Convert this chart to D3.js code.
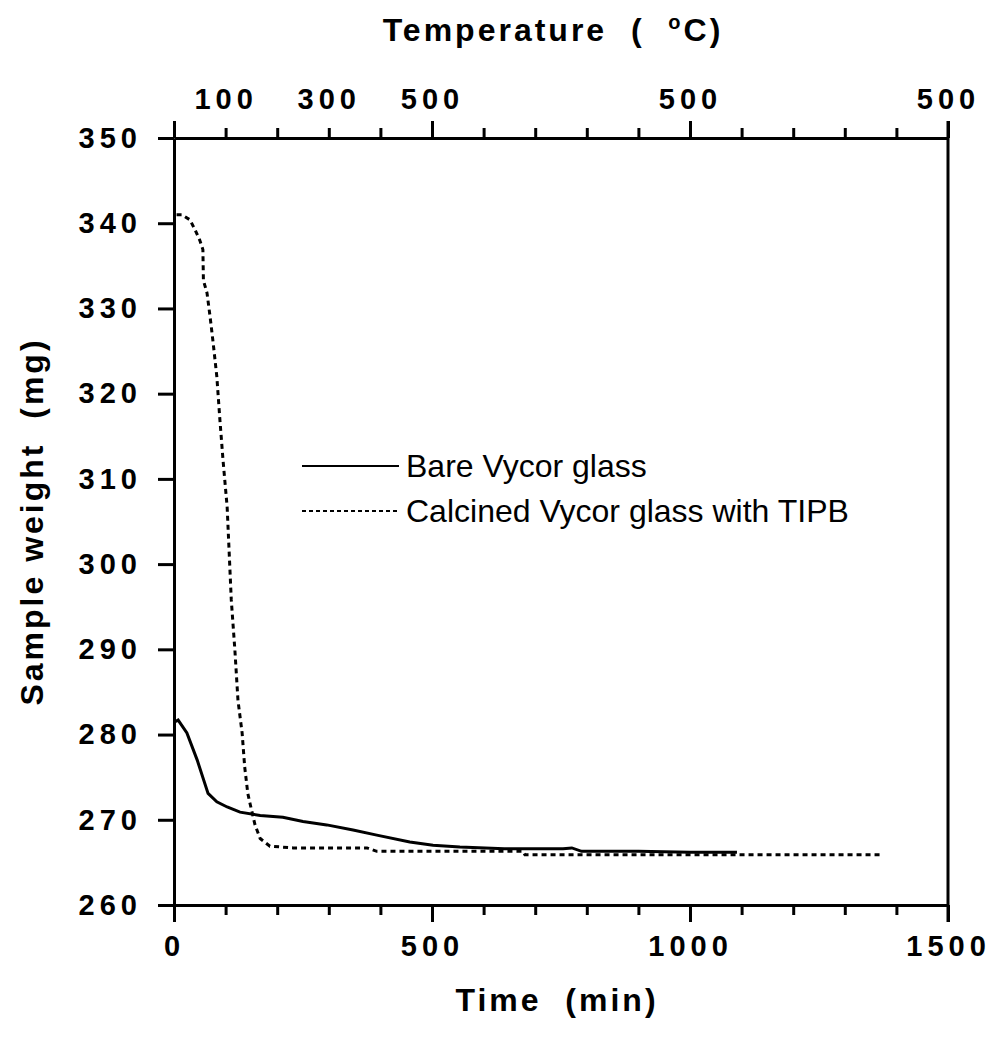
<!DOCTYPE html>
<html>
<head>
<meta charset="utf-8">
<script src="https://cdn.jsdelivr.net/npm/d3@7"></script>
<style>
  body { margin: 0; background: #fff; }
  svg { font-family: "Liberation Sans", Arial, sans-serif; }
  .tick text { font-weight: bold; font-size: 29px; letter-spacing: 5px; fill: #000; }
  .domain, .tick line { stroke: #000; stroke-width: 3; }
  .title { font-weight: bold; font-size: 32px; letter-spacing: 3px; }
</style>
</head>
<body>
<svg width="997" height="1040"></svg>
<script>
// Bare Vycor glass
const timeBare = [2, 8, 25, 45, 66, 83, 103, 128, 167, 211, 250, 296, 347, 393, 457, 502, 554, 640, 754, 771, 790, 900, 1000, 1091]
const weightBare = [281.5, 281.7, 280.2, 277.0, 273.1, 272.1, 271.5, 270.9, 270.5, 270.3, 269.8, 269.4, 268.8, 268.2, 267.4, 267.0, 266.8, 266.6, 266.6, 266.7, 266.3, 266.3, 266.2, 266.2]

// Calcined Vycor glass with TIPB
const timeTipb = [5, 15, 31, 41, 50, 56, 57, 64, 70, 76, 83, 89, 95, 103, 111, 118, 124, 132, 137, 143, 147, 157, 167, 186, 231, 374, 393, 554, 676, 680, 900, 1100, 1374]
const weightTipb = [341.0, 341.0, 340.4, 339.2, 338.0, 336.9, 333.3, 331.8, 329.0, 325.9, 322.0, 316.9, 312.2, 306.7, 295.8, 289.9, 284.0, 280.2, 276.2, 273.1, 272.0, 269.4, 267.8, 266.9, 266.7, 266.7, 266.3, 266.3, 266.3, 265.9, 265.9, 265.9, 265.9]

const timeMajor = [0, 500, 1000, 1500]
const timeMinor = d3.range(0, 1501, 100).filter(t => t % 500 !== 0)
const weightTicks = d3.range(260, 351, 10)
const tempTickTimes = [100, 300, 500, 1000, 1500]
const tempTickLabels = ['100', '300', '500', '500', '500']

const seriesNames = ['Bare Vycor glass', 'Calcined Vycor glass with TIPB']

const margin = { left: 174, top: 138, right: 49, bottom: 135 }
const W = 997 - margin.left - margin.right
const H = 1040 - margin.top - margin.bottom

const svg = d3.select('svg')
const g = svg.append('g').attr('transform', `translate(${margin.left},${margin.top})`)

const x = d3.scaleLinear().domain([0, 1500]).range([0, W])
const y = d3.scaleLinear().domain([260, 350]).range([H, 0])

// bottom axis
g.append('g')
  .attr('transform', `translate(0,${H})`)
  .call(d3.axisBottom(x).tickValues(timeMinor).tickSize(10).tickFormat(''))
  .call(a => a.select('.domain').remove())
g.append('g')
  .attr('transform', `translate(0,${H})`)
  .call(d3.axisBottom(x).tickValues(timeMajor).tickSize(17).tickSizeOuter(0).tickPadding(13).tickFormat(d3.format('d')))

// top axis
g.append('g')
  .call(d3.axisTop(x).tickValues(timeMinor).tickSize(10).tickFormat(''))
  .call(a => a.select('.domain').remove())
g.append('g')
  .call(d3.axisTop(x).tickValues(timeMajor).tickSize(17).tickSizeOuter(0).tickFormat(''))
g.append('g')
  .call(d3.axisTop(x).tickValues(tempTickTimes).tickSize(0).tickPadding(29)
    .tickFormat((d, i) => tempTickLabels[i]))
  .call(a => a.select('.domain').remove())

// left axis
g.append('g')
  .call(d3.axisLeft(y).tickValues(weightTicks).tickSize(16).tickSizeOuter(0).tickPadding(16))

// right border
g.append('line')
  .attr('x1', W).attr('x2', W).attr('y1', -17).attr('y2', H + 17)
  .attr('stroke', '#000').attr('stroke-width', 3)

// curves
const line = d3.line().x(d => x(d[0])).y(d => y(d[1]))

g.append('path')
  .datum(d3.zip(timeBare, weightBare))
  .attr('d', line)
  .attr('fill', 'none')
  .attr('stroke', '#000')
  .attr('stroke-width', 3)

g.append('path')
  .datum(d3.zip(timeTipb, weightTipb))
  .attr('d', line)
  .attr('fill', 'none')
  .attr('stroke', '#000')
  .attr('stroke-width', 3)
  .attr('stroke-dasharray', '5,4')

// legend
const legend = svg.append('g').attr('transform', 'translate(302,466)')
legend.selectAll('line')
  .data(seriesNames)
  .enter()
  .append('line')
  .attr('x1', 0).attr('x2', 97)
  .attr('y1', (d, i) => i * 45).attr('y2', (d, i) => i * 45)
  .attr('stroke', '#000')
  .attr('stroke-width', 2)
  .attr('stroke-dasharray', (d, i) => i ? '4,3' : null)
legend.selectAll('text')
  .data(seriesNames)
  .enter()
  .append('text')
  .attr('x', 104)
  .attr('y', (d, i) => i * 45 + 11)
  .style('font-size', '32px')
  .text(d => d)

// axis titles
svg.append('text')
  .attr('class', 'title')
  .attr('x', margin.left + W / 2 - 4)
  .attr('y', 1011)
  .attr('text-anchor', 'middle')
  .attr('xml:space', 'preserve')
  .text('Time  (min)')

svg.append('text')
  .attr('class', 'title')
  .attr('transform', `translate(43,${margin.top + H / 2}) rotate(-90)`)
  .attr('text-anchor', 'middle')
  .attr('xml:space', 'preserve')
  .text('Sample weight  (mg)')

const title = svg.append('text')
  .attr('class', 'title')
  .attr('x', 553)
  .attr('y', 41)
  .attr('text-anchor', 'middle')
  .attr('xml:space', 'preserve')
title.append('tspan').text('Temperature  (  ')
title.append('tspan').attr('dy', -12).style('font-size', '20px').text('o')
title.append('tspan').attr('dy', 12).text('C)')
</script>
</body>
</html>
